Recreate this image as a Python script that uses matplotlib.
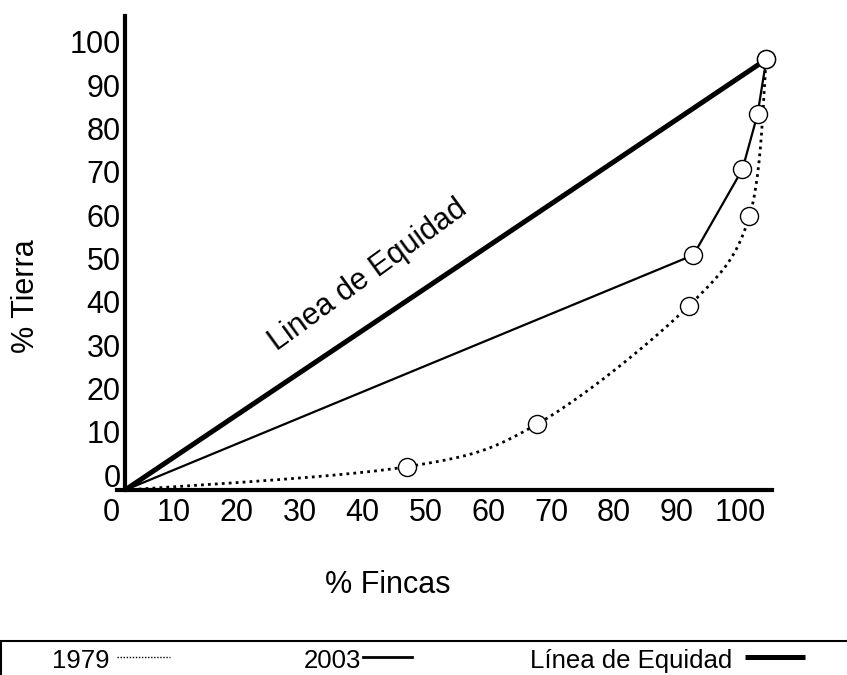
# Curva de Lorenz - tenencia de la tierra 1979 vs 2003

import numpy as np
import matplotlib.pyplot as plt
from matplotlib.lines import Line2D
from matplotlib.patches import Rectangle

plt.rcParams['font.family'] = ['Liberation Sans', 'DejaVu Sans']

# valores (% fincas, % tierra)
origen = (2.2, -3.5)
fincas_1979 = [47.0, 67.8, 91.9, 101.5, 104.2]
tierra_1979 = [1.9, 11.8, 39.1, 59.7, 96.0]
fincas_2003 = [92.6, 100.4, 102.8, 104.2]
tierra_2003 = [50.8, 70.6, 83.3, 96.0]
fincas_equidad = [104.2]
tierra_equidad = [96.0]

ticks = [0, 10, 20, 30, 40, 50, 60, 70, 80, 90, 100]
tick_labels = [str(t) for t in ticks]
series = ['1979', '2003', 'Línea de Equidad']


def suavizar(xs, ys, n=30):
    # catmull-rom, solo para dibujar la curva suave
    p = np.column_stack([xs, ys])
    p = np.vstack([p[0], p, p[-1]])
    out = []
    for i in range(1, len(p) - 2):
        p0, p1, p2, p3 = p[i - 1], p[i], p[i + 1], p[i + 2]
        t = np.linspace(0, 1, n)[:, None]
        c = 0.5 * ((2 * p1) + (-p0 + p2) * t + (2 * p0 - 5 * p1 + 4 * p2 - p3) * t ** 2
                   + (-p0 + 3 * p1 - 3 * p2 + p3) * t ** 3)
        out.append(c)
    c = np.vstack(out)
    return c[:, 0], c[:, 1]


fig = plt.figure(figsize=(8.47, 6.75), dpi=100)
ax = fig.add_axes([111 / 847, 185 / 675, 661 / 847, 474 / 675])
ax.set_xlim(0, 105.1)
ax.set_ylim(-3.46, 106.0)

# linea de equidad
ax.plot([origen[0]] + fincas_equidad, [origen[1]] + tierra_equidad,
        color='black', lw=3.6, solid_capstyle='butt', zorder=3, clip_on=False)

# 2003
ax.plot([origen[0]] + fincas_2003, [origen[1]] + tierra_2003,
        color='black', lw=1.6, zorder=3, clip_on=False)

# 1979 (punteada, suave)
sx, sy = suavizar([origen[0]] + fincas_1979, [origen[1]] + tierra_1979)
ax.plot(sx, sy, color='black', lw=2.0, linestyle=(0, (1, 1.5)), zorder=3, clip_on=False)

ax.plot(fincas_1979, tierra_1979, linestyle='none', marker='o', ms=13,
        mfc='white', mec='black', mew=1.0, zorder=5, clip_on=False)
ax.plot(fincas_2003, tierra_2003, linestyle='none', marker='o', ms=13,
        mfc='white', mec='black', mew=1.0, zorder=5, clip_on=False)

ax.text(40.9, 46.2, 'Linea de Equidad', rotation=36, rotation_mode='anchor',
        ha='center', va='center', fontsize=22)

for s in ['top', 'right']:
    ax.spines[s].set_visible(False)
ax.spines['left'].set_position(('data', 2.2))
ax.spines['left'].set_linewidth(3)
ax.spines['bottom'].set_linewidth(3)
ax.spines['bottom'].set_bounds(1.0, 105.1)

ax.set_xticks(ticks)
ax.set_xticklabels(tick_labels)
ax.set_yticks(ticks)
ax.set_yticklabels(tick_labels)
ax.tick_params(axis='both', length=0, labelsize=22)
ax.tick_params(axis='x', pad=6)
ax.tick_params(axis='y', pad=3)

fig.text(26 / 847, 1 - 296 / 675, '% Tierra', rotation=90, ha='center', va='center', fontsize=22)
fig.text(388 / 847, 1 - 585 / 675, '% Fincas', ha='center', va='center', fontsize=22)

# leyenda (cortada abajo y a la derecha, como en el original)
fig.patches.append(Rectangle((1 / 847, -0.2), 1.2, 0.2 + 34 / 675, transform=fig.transFigure,
                             fill=False, lw=1.5, edgecolor='black'))
ley_y = 1 - 668 / 675
ley_linea = 1 - 657 / 675
fig.text(52 / 847, ley_y, series[0], fontsize=18.5)
fig.text(304 / 847, ley_y, series[1], fontsize=18.5)
fig.text(530 / 847, ley_y, series[2], fontsize=18.5)
fig.lines.append(Line2D([117 / 847, 170 / 847], [ley_linea, ley_linea], transform=fig.transFigure,
                        color='black', lw=1.0, linestyle=(0, (1, 1.2))))
fig.lines.append(Line2D([363 / 847, 412 / 847], [ley_linea, ley_linea], transform=fig.transFigure,
                        color='black', lw=2.0))
fig.lines.append(Line2D([745 / 847, 805 / 847], [ley_linea, ley_linea], transform=fig.transFigure,
                        color='black', lw=3.6, solid_capstyle='butt'))

fig.savefig('out.png', dpi=100)
